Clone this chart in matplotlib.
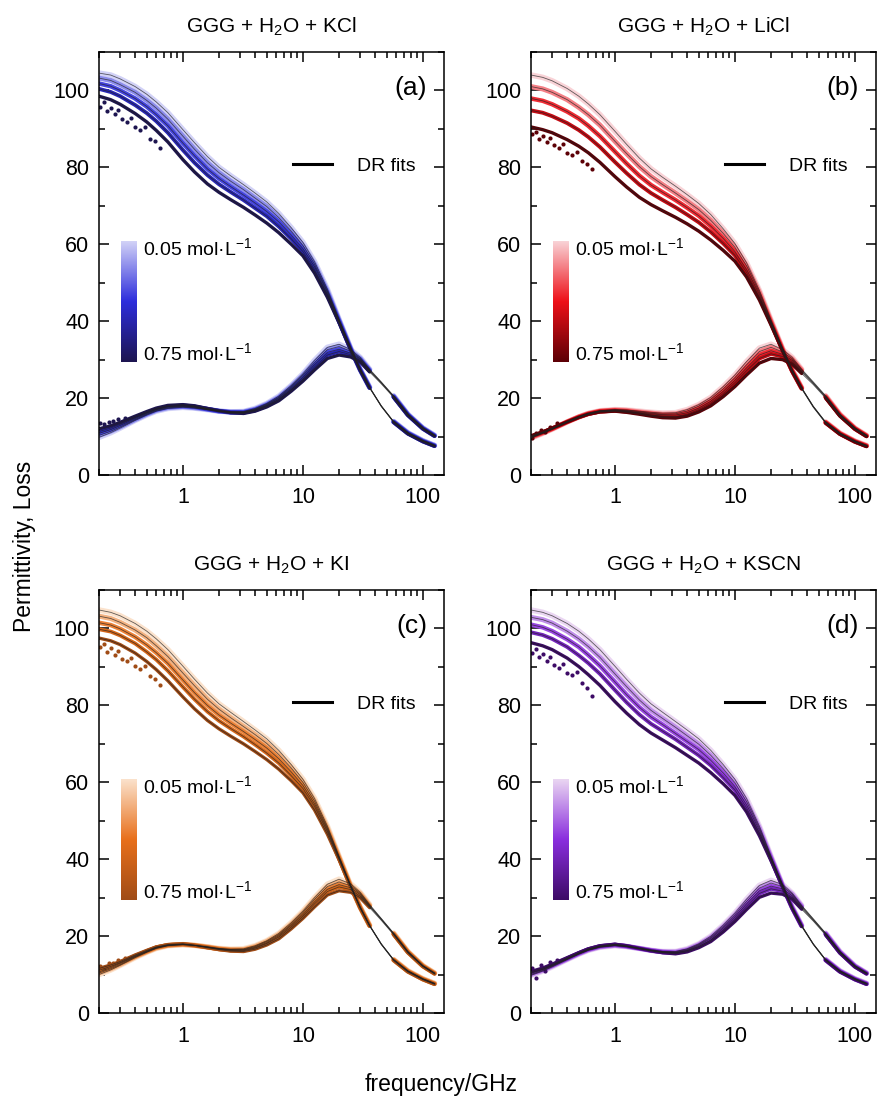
import numpy as np
import matplotlib.pyplot as plt
from matplotlib.colors import LinearSegmentedColormap
from matplotlib.ticker import FixedLocator, FixedFormatter, MultipleLocator, NullFormatter
from matplotlib.lines import Line2D

plt.rcParams['font.family'] = ['Liberation Sans', 'DejaVu Sans']
plt.rcParams['mathtext.default'] = 'regular'

# frequency grid (GHz) and salt concentrations (mol/L)
freq = [0.2, 0.25, 0.3, 0.4, 0.5, 0.6, 0.75, 1, 1.25, 1.6, 2, 2.5, 3.2, 4, 5, 6.3, 8, 10,
        12.5, 16, 20, 25, 30, 36, 45, 57, 75, 100, 125]
conc = [0.05, 0.2, 0.35, 0.5, 0.75]
salts = ['KCl', 'LiCl', 'KI', 'KSCN']
tags = ['(a)', '(b)', '(c)', '(d)']

# real permittivity, one row per concentration
perm_kcl = [
    [104.5, 104.0, 103.0, 101.0, 99.0, 97.0, 94.2, 89.8, 86.4, 82.8, 80.0, 77.8, 75.5, 73.3, 71.0, 68.0, 64.3, 60.5, 55.5, 48.3, 40.5, 33.0, 27.5, 22.8, 18.0, 13.9, 11.0, 8.9, 7.7],
    [103.2, 102.6, 101.5, 99.5, 97.4, 95.4, 92.5, 88.1, 84.7, 81.2, 78.6, 76.4, 74.2, 72.0, 69.8, 66.9, 63.4, 59.7, 54.8, 47.8, 40.3, 32.9, 27.4, 22.8, 18.0, 13.9, 10.9, 8.9, 7.7],
    [101.8, 101.1, 100.0, 97.9, 95.8, 93.7, 90.8, 86.3, 83.0, 79.6, 77.1, 75.0, 72.8, 70.7, 68.5, 65.8, 62.4, 58.9, 54.2, 47.4, 40.1, 32.8, 27.4, 22.7, 17.9, 13.8, 10.9, 8.8, 7.6],
    [100.4, 99.6, 98.5, 96.2, 94.1, 92.0, 89.0, 84.5, 81.2, 78.0, 75.6, 73.6, 71.5, 69.4, 67.3, 64.6, 61.4, 58.1, 53.5, 46.9, 39.9, 32.7, 27.3, 22.7, 17.9, 13.8, 10.8, 8.8, 7.6],
    [98.5, 97.6, 96.4, 94.0, 91.8, 89.6, 86.6, 82.0, 78.8, 75.7, 73.5, 71.6, 69.6, 67.6, 65.5, 63.0, 60.0, 57.0, 52.5, 46.2, 39.6, 32.6, 27.2, 22.6, 17.8, 13.7, 10.7, 8.7, 7.5],
]
loss_kcl = [
    [9.8, 11.0, 12.2, 14.2, 15.6, 16.6, 17.3, 17.6, 17.4, 17.0, 16.6, 16.4, 16.5, 17.3, 18.6, 20.5, 23.3, 26.3, 29.8, 33.2, 34.0, 32.6, 30.6, 27.5, 24.2, 20.6, 15.8, 12.2, 10.3],
    [10.3, 11.4, 12.5, 14.4, 15.8, 16.8, 17.5, 17.8, 17.5, 17.1, 16.6, 16.4, 16.4, 17.1, 18.4, 20.2, 23.0, 25.9, 29.2, 32.6, 33.4, 32.2, 30.3, 27.3, 24.1, 20.5, 15.7, 12.2, 10.3],
    [10.8, 11.8, 12.9, 14.7, 16.0, 17.0, 17.7, 17.9, 17.7, 17.1, 16.6, 16.3, 16.3, 17.0, 18.2, 20.0, 22.6, 25.4, 28.7, 31.9, 32.7, 31.7, 30.1, 27.2, 24.0, 20.4, 15.7, 12.1, 10.2],
    [11.3, 12.2, 13.2, 14.9, 16.2, 17.1, 17.8, 18.1, 17.8, 17.2, 16.7, 16.3, 16.2, 16.8, 18.0, 19.7, 22.3, 25.0, 28.1, 31.2, 32.1, 31.3, 29.8, 27.0, 23.9, 20.3, 15.6, 12.1, 10.2],
    [12.0, 12.8, 13.7, 15.3, 16.5, 17.4, 18.1, 18.3, 18.0, 17.3, 16.7, 16.2, 16.0, 16.6, 17.7, 19.3, 21.8, 24.4, 27.3, 30.3, 31.2, 30.7, 29.4, 26.8, 23.7, 20.2, 15.5, 12.0, 10.1],
]

perm_licl = [
    [104.0, 103.4, 102.5, 100.5, 98.5, 96.5, 93.7, 89.4, 86.0, 82.4, 79.6, 77.4, 75.1, 72.9, 70.6, 67.7, 64.0, 60.2, 55.2, 48.0, 40.3, 32.8, 27.3, 22.7, 17.9, 13.8, 10.9, 8.8, 7.7],
    [101.0, 100.4, 99.5, 97.6, 95.6, 93.7, 91.0, 86.8, 83.6, 80.2, 77.6, 75.5, 73.3, 71.2, 69.0, 66.2, 62.8, 59.2, 54.4, 47.5, 40.0, 32.7, 27.2, 22.6, 17.8, 13.7, 10.8, 8.8, 7.6],
    [97.9, 97.3, 96.4, 94.5, 92.7, 90.8, 88.1, 84.1, 81.0, 77.8, 75.4, 73.5, 71.5, 69.5, 67.4, 64.7, 61.5, 58.1, 53.5, 46.9, 39.7, 32.5, 27.1, 22.6, 17.8, 13.7, 10.8, 8.7, 7.6],
    [94.8, 94.2, 93.3, 91.5, 89.7, 87.9, 85.3, 81.4, 78.5, 75.5, 73.3, 71.5, 69.6, 67.7, 65.7, 63.2, 60.2, 57.1, 52.7, 46.3, 39.4, 32.4, 27.0, 22.5, 17.7, 13.6, 10.7, 8.7, 7.5],
    [90.5, 89.8, 89.0, 87.2, 85.5, 83.8, 81.3, 77.6, 74.9, 72.2, 70.3, 68.7, 67.0, 65.3, 63.4, 61.1, 58.4, 55.6, 51.5, 45.5, 39.0, 32.2, 26.9, 22.4, 17.6, 13.5, 10.6, 8.6, 7.4],
]
loss_licl = [
    [9.6, 10.8, 11.9, 13.8, 15.1, 16.0, 16.7, 17.0, 16.9, 16.6, 16.3, 16.1, 16.2, 17.0, 18.3, 20.2, 23.0, 26.0, 29.5, 33.0, 34.0, 32.6, 30.6, 27.5, 24.2, 20.6, 15.8, 12.2, 10.3],
    [9.7, 10.9, 12.0, 13.8, 15.1, 16.0, 16.6, 16.9, 16.8, 16.4, 16.1, 15.8, 15.9, 16.6, 17.9, 19.7, 22.4, 25.3, 28.7, 32.1, 33.2, 32.0, 30.2, 27.3, 24.0, 20.5, 15.7, 12.1, 10.2],
    [9.9, 11.0, 12.0, 13.8, 15.1, 15.9, 16.6, 16.8, 16.6, 16.2, 15.9, 15.6, 15.6, 16.2, 17.4, 19.2, 21.8, 24.7, 27.9, 31.2, 32.3, 31.4, 29.8, 27.0, 23.9, 20.3, 15.6, 12.1, 10.2],
    [10.0, 11.1, 12.1, 13.8, 15.0, 15.9, 16.5, 16.7, 16.5, 16.1, 15.6, 15.3, 15.2, 15.8, 17.0, 18.7, 21.2, 24.0, 27.1, 30.3, 31.5, 30.8, 29.4, 26.8, 23.7, 20.2, 15.5, 12.0, 10.1],
    [10.2, 11.2, 12.2, 13.8, 15.0, 15.8, 16.4, 16.6, 16.3, 15.8, 15.3, 14.9, 14.8, 15.3, 16.4, 18.0, 20.4, 23.0, 26.0, 29.1, 30.3, 30.0, 28.8, 26.4, 23.5, 20.0, 15.3, 11.9, 10.0],
]

perm_ki = [
    [104.8, 104.2, 103.3, 101.3, 99.3, 97.3, 94.5, 90.2, 86.8, 83.2, 80.4, 78.2, 75.8, 73.6, 71.3, 68.3, 64.6, 60.8, 55.8, 48.6, 40.8, 33.2, 27.6, 22.8, 18.0, 13.9, 11.0, 8.9, 7.7],
    [103.2, 102.6, 101.6, 99.6, 97.6, 95.5, 92.7, 88.4, 85.1, 81.6, 79.0, 76.8, 74.5, 72.4, 70.1, 67.2, 63.7, 60.0, 55.1, 48.1, 40.6, 33.1, 27.5, 22.8, 18.0, 13.9, 10.9, 8.9, 7.7],
    [101.5, 100.9, 99.9, 97.8, 95.7, 93.7, 90.9, 86.6, 83.3, 80.0, 77.5, 75.4, 73.2, 71.1, 68.9, 66.1, 62.7, 59.2, 54.4, 47.7, 40.4, 33.0, 27.5, 22.7, 17.9, 13.8, 10.9, 8.8, 7.6],
    [99.8, 99.2, 98.2, 96.1, 93.9, 91.9, 89.0, 84.8, 81.6, 78.4, 76.0, 74.0, 71.9, 69.8, 67.6, 65.0, 61.7, 58.4, 53.8, 47.2, 40.2, 32.9, 27.4, 22.7, 17.9, 13.8, 10.8, 8.8, 7.6],
    [97.5, 96.8, 95.8, 93.6, 91.4, 89.3, 86.4, 82.2, 79.1, 76.1, 73.9, 72.0, 70.0, 68.0, 65.9, 63.4, 60.4, 57.3, 52.8, 46.5, 39.9, 32.8, 27.3, 22.6, 17.8, 13.7, 10.7, 8.7, 7.5],
]
loss_ki = [
    [10.0, 11.2, 12.4, 14.4, 15.8, 16.8, 17.5, 17.8, 17.6, 17.2, 16.8, 16.6, 16.7, 17.5, 18.8, 20.7, 23.5, 26.5, 30.0, 33.5, 34.8, 33.6, 31.4, 28.2, 24.6, 20.8, 16.0, 12.3, 10.4],
    [10.4, 11.5, 12.6, 14.6, 15.9, 16.9, 17.6, 17.8, 17.6, 17.2, 16.7, 16.5, 16.5, 17.3, 18.6, 20.4, 23.1, 26.1, 29.5, 32.9, 34.1, 33.1, 31.1, 28.0, 24.5, 20.7, 15.9, 12.3, 10.4],
    [10.7, 11.8, 12.9, 14.7, 16.0, 17.0, 17.6, 17.9, 17.6, 17.1, 16.7, 16.4, 16.4, 17.1, 18.3, 20.1, 22.8, 25.6, 28.9, 32.2, 33.4, 32.6, 30.8, 27.8, 24.4, 20.6, 15.9, 12.2, 10.3],
    [11.1, 12.1, 13.1, 14.9, 16.1, 17.1, 17.7, 17.9, 17.6, 17.1, 16.6, 16.3, 16.2, 16.9, 18.1, 19.8, 22.4, 25.2, 28.4, 31.6, 32.8, 32.1, 30.4, 27.7, 24.3, 20.5, 15.8, 12.2, 10.3],
    [11.6, 12.5, 13.4, 15.1, 16.3, 17.2, 17.8, 18.0, 17.6, 17.0, 16.5, 16.1, 16.0, 16.6, 17.7, 19.3, 21.9, 24.6, 27.6, 30.7, 31.8, 31.4, 30.0, 27.4, 24.1, 20.4, 15.7, 12.1, 10.2],
]

perm_kscn = [
    [104.8, 104.2, 103.3, 101.3, 99.3, 97.3, 94.5, 90.2, 86.8, 83.2, 80.4, 78.2, 75.8, 73.6, 71.3, 68.3, 64.6, 60.8, 55.8, 48.6, 40.8, 33.2, 27.6, 22.8, 18.0, 13.9, 11.0, 8.9, 7.7],
    [102.9, 102.3, 101.4, 99.3, 97.3, 95.3, 92.5, 88.2, 84.9, 81.4, 78.7, 76.6, 74.3, 72.1, 69.9, 67.0, 63.5, 59.9, 55.0, 48.1, 40.5, 33.1, 27.5, 22.7, 18.0, 13.9, 10.9, 8.9, 7.7],
    [101.0, 100.3, 99.3, 97.2, 95.2, 93.1, 90.3, 86.1, 82.8, 79.5, 77.0, 75.0, 72.7, 70.6, 68.5, 65.7, 62.4, 58.9, 54.2, 47.5, 40.3, 33.0, 27.4, 22.7, 17.9, 13.8, 10.9, 8.8, 7.6],
    [99.0, 98.3, 97.3, 95.2, 93.0, 91.0, 88.2, 84.0, 80.8, 77.6, 75.2, 73.3, 71.2, 69.1, 67.0, 64.4, 61.2, 58.0, 53.4, 46.9, 40.0, 32.9, 27.3, 22.6, 17.9, 13.8, 10.8, 8.8, 7.6],
    [96.3, 95.5, 94.5, 92.3, 90.1, 88.0, 85.2, 81.0, 78.0, 75.0, 72.8, 71.0, 69.0, 67.0, 65.0, 62.5, 59.6, 56.6, 52.3, 46.1, 39.6, 32.7, 27.2, 22.5, 17.8, 13.7, 10.7, 8.7, 7.5],
]
loss_kscn = [
    [9.8, 10.9, 12.0, 13.9, 15.3, 16.3, 17.1, 17.5, 17.3, 16.8, 16.3, 16.0, 16.0, 16.7, 18.0, 20.0, 22.9, 26.0, 29.6, 33.2, 34.5, 33.4, 31.2, 28.0, 24.5, 20.8, 16.0, 12.3, 10.4],
    [10.0, 11.1, 12.2, 14.0, 15.4, 16.4, 17.2, 17.6, 17.3, 16.8, 16.3, 15.9, 15.9, 16.5, 17.8, 19.7, 22.5, 25.5, 29.0, 32.5, 33.8, 32.9, 30.9, 27.8, 24.4, 20.7, 15.9, 12.2, 10.4],
    [10.3, 11.3, 12.3, 14.1, 15.5, 16.5, 17.3, 17.7, 17.4, 16.8, 16.3, 15.9, 15.7, 16.3, 17.6, 19.4, 22.1, 25.0, 28.4, 31.8, 33.0, 32.3, 30.5, 27.6, 24.2, 20.6, 15.8, 12.2, 10.3],
    [10.5, 11.4, 12.5, 14.2, 15.6, 16.6, 17.4, 17.8, 17.4, 16.8, 16.2, 15.8, 15.6, 16.2, 17.3, 19.0, 21.7, 24.5, 27.8, 31.1, 32.3, 31.7, 30.1, 27.3, 24.1, 20.5, 15.7, 12.1, 10.3],
    [10.8, 11.7, 12.7, 14.4, 15.7, 16.7, 17.5, 17.9, 17.5, 16.8, 16.2, 15.7, 15.4, 15.9, 17.0, 18.6, 21.1, 23.8, 26.9, 30.1, 31.2, 30.9, 29.6, 27.0, 23.9, 20.3, 15.6, 12.0, 10.2],
]

# scattered low-frequency points of the most concentrated sample
noise_f = [0.205, 0.22, 0.235, 0.25, 0.27, 0.29, 0.31, 0.34, 0.37, 0.4, 0.44, 0.48, 0.53, 0.58, 0.64]
noise_perm = [
    [95.8, 96.9, 94.6, 95.4, 93.8, 94.9, 92.6, 91.8, 92.9, 90.4, 89.6, 90.5, 87.4, 86.8, 84.9],
    [88.6, 89.3, 87.4, 88.2, 86.5, 87.6, 85.7, 85.0, 86.1, 83.8, 83.2, 84.0, 81.6, 80.9, 79.6],
    [95.2, 96.0, 94.0, 94.9, 93.0, 94.1, 92.0, 91.6, 92.4, 90.2, 89.5, 90.3, 87.6, 86.9, 85.3],
    [93.6, 94.6, 92.5, 93.4, 91.5, 92.6, 90.4, 89.8, 90.7, 88.3, 87.8, 88.6, 85.7, 84.6, 82.5],
]
noise_lf = [0.205, 0.22, 0.24, 0.26, 0.29, 0.33]
noise_loss = [
    [13.6, 13.2, 13.9, 14.0, 14.6, 14.8],
    [9.6, 10.8, 11.8, 11.2, 12.6, 13.4],
    [12.3, 11.8, 12.9, 13.0, 13.8, 14.4],
    [11.8, 9.2, 12.4, 11.0, 13.3, 13.9],
]

perms = [perm_kcl, perm_licl, perm_ki, perm_kscn]
losses = [loss_kcl, loss_licl, loss_ki, loss_kscn]

# colour ramps (low -> high concentration)
ramps = [
    ['#d2d2f7', '#2d2ddc', '#1d1550'],
    ['#f9d3d7', '#ee1018', '#5c0006'],
    ['#fbe2cc', '#e8701c', '#a04c16'],
    ['#ead6f2', '#8a2ede', '#3d0b66'],
]
# dilute samples drawn wider so their colour shows around the concentrated ones
widths = [4.0, 3.6, 3.2, 2.8, 2.4]

fig = plt.figure(figsize=(8.77, 11.08), dpi=100)
boxes = [
    [0.1129, 0.5713, 0.3934, 0.3818],
    [0.6055, 0.5713, 0.3934, 0.3818],
    [0.1129, 0.0857, 0.3934, 0.3818],
    [0.6055, 0.0857, 0.3934, 0.3818],
]

f = np.array(freq)
lo = f <= 36
hi = f >= 57
gradient = np.linspace(0, 1, 256).reshape(-1, 1)

for i, salt in enumerate(salts):
    ax = fig.add_axes(boxes[i])
    cmap = LinearSegmentedColormap.from_list(salt, ramps[i])
    pos = (np.array(conc) - conc[0]) / (conc[-1] - conc[0])

    for k in range(len(conc)):
        col = cmap(pos[k])
        for series in (perms[i][k], losses[i][k]):
            y = np.array(series)
            for m in (lo, hi):
                ax.plot(f[m], y[m], color=col, lw=widths[k], solid_capstyle='round', zorder=2)
    dark = cmap(1.0)
    ax.plot(noise_f, noise_perm[i], 'o', ms=3.0, color=dark, mec='none', zorder=2)
    ax.plot(noise_lf, noise_loss[i], 'o', ms=3.0, color=dark, mec='none', zorder=2)

    # DR fit curves
    for k in range(len(conc)):
        for series in (perms[i][k], losses[i][k]):
            ax.plot(f, series, color='#202020', lw=0.6, alpha=0.7, zorder=3)

    ax.set_xscale('log')
    ax.set_xlim(0.2, 150)
    ax.set_ylim(0, 110)
    ax.xaxis.set_major_locator(FixedLocator([1, 10, 100]))
    ax.xaxis.set_major_formatter(FixedFormatter(['1', '10', '100']))
    minors = [m * d for d in (0.1, 1, 10) for m in range(2, 10)]
    ax.xaxis.set_minor_locator(FixedLocator(minors))
    ax.xaxis.set_minor_formatter(NullFormatter())
    ax.yaxis.set_major_locator(MultipleLocator(20))
    ax.yaxis.set_minor_locator(MultipleLocator(10))
    ax.tick_params(which='both', direction='in', top=True, right=True, width=1.1)
    ax.tick_params(which='major', length=7)
    ax.tick_params(which='minor', length=4)
    ax.tick_params(axis='x', labelsize=15.5, pad=9)
    ax.tick_params(axis='y', labelsize=15.5, pad=7)
    for sp in ax.spines.values():
        sp.set_linewidth(1.1)

    ax.set_title('GGG + H$_2$O + ' + salt, fontsize=15, pad=14)
    ax.text(0.951, 0.915, tags[i], transform=ax.transAxes, ha='right', va='center', fontsize=19)

    handle = Line2D([], [], color='black', lw=2.2)
    ax.legend([handle], ['DR fits'], loc='center left', bbox_to_anchor=(0.562, 0.730),
              frameon=False, fontsize=14, handlelength=2.0, handletextpad=1.3,
              borderpad=0, borderaxespad=0)

    # concentration scale bar
    cax = ax.inset_axes([0.0638, 0.267, 0.0435, 0.286])
    cax.imshow(gradient, cmap=cmap, aspect='auto')
    cax.set_axis_off()
    ax.text(0.1275, 0.537, '0.05 mol·L$^{-1}$', transform=ax.transAxes, ha='left', va='center', fontsize=14)
    ax.text(0.1275, 0.288, '0.75 mol·L$^{-1}$', transform=ax.transAxes, ha='left', va='center', fontsize=14)

fig.text(0.028, 0.507, 'Permittivity, Loss', rotation=90, ha='center', va='center', fontsize=16.5)
fig.text(0.503, 0.021, 'frequency/GHz', ha='center', va='center', fontsize=16.5)

fig.savefig('out.png', dpi=100)
